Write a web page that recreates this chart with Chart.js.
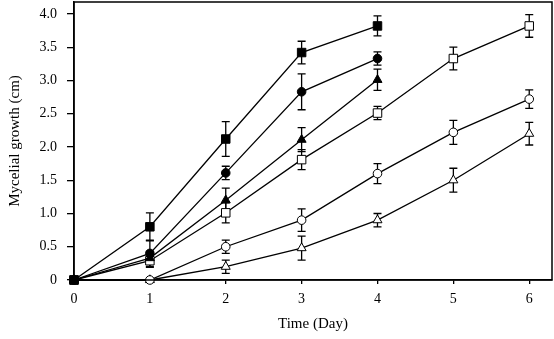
<!DOCTYPE html>
<html>
<head>
<meta charset="utf-8">
<script src="https://cdn.jsdelivr.net/npm/chart.js@4.4.1/dist/chart.umd.min.js"></script>
<style>
	html, body { margin: 0; padding: 0; background: #fff; }
	#wrap { width: 554px; height: 339px; position: relative; }
</style>
</head>
<body>
<div id="wrap"><canvas id="growthChart"></canvas></div>
<script>
// days on the x axis
const days = [0, 1, 2, 3, 4, 5, 6];
const xTicks = [0, 1, 2, 3, 4, 5, 6];
const yTicks = [0, 0.5, 1, 1.5, 2, 2.5, 3, 3.5, 4];

// mycelial growth (cm), with standard error
const filledSquare = [0, 0.80, 2.12, 3.42, 3.82];
const filledSquareErr = [0, 0.21, 0.26, 0.17, 0.15];
const filledCircle = [0, 0.40, 1.61, 2.83, 3.33];
const filledCircleErr = [0, 0.20, 0.10, 0.27, 0.10];
const filledTriangle = [0, 0.33, 1.20, 2.11, 3.01];
const filledTriangleErr = [0, 0.10, 0.18, 0.18, 0.16];
const openSquare = [0, 0.29, 1.01, 1.81, 2.51, 3.33, 3.82];
const openSquareErr = [0, 0.10, 0.15, 0.15, 0.10, 0.17, 0.17];
const openCircle = [0, 0, 0.50, 0.90, 1.60, 2.22, 2.72];
const openCircleErr = [0, 0, 0.10, 0.17, 0.15, 0.18, 0.14];
const openTriangle = [0, 0, 0.20, 0.48, 0.90, 1.50, 2.20];
const openTriangleErr = [0, 0, 0.10, 0.18, 0.10, 0.18, 0.17];

function makeSet(label, values, errs, style, filled, radius) {
	return {
		label: label,
		data: values.map((v, i) => ({ x: days[i], y: v })),
		errors: errs,
		borderColor: '#000',
		borderWidth: 1.3,
		pointStyle: style,
		pointRadius: radius,
		pointHoverRadius: radius,
		pointBackgroundColor: filled ? '#000' : '#fff',
		pointBorderColor: '#000',
		pointBorderWidth: 1,
		fill: false,
		tension: 0,
		clip: false
	};
}

// error bars drawn under the markers, using the chart scales
const errorBars = {
	id: 'errorBars',
	beforeDatasetsDraw(chart) {
		const ctx = chart.ctx;
		const xs = chart.scales.x;
		const ys = chart.scales.y;
		ctx.save();
		ctx.strokeStyle = '#000';
		ctx.lineWidth = 1.3;
		chart.data.datasets.forEach(ds => {
			ds.data.forEach((p, i) => {
				const e = ds.errors[i];
				if (!e) return;
				const px = xs.getPixelForValue(p.x);
				const top = ys.getPixelForValue(p.y + e);
				const bot = ys.getPixelForValue(p.y - e);
				ctx.beginPath();
				ctx.moveTo(px, top); ctx.lineTo(px, bot);
				ctx.moveTo(px - 4, top); ctx.lineTo(px + 4, top);
				ctx.moveTo(px - 4, bot); ctx.lineTo(px + 4, bot);
				ctx.stroke();
			});
		});
		ctx.restore();
	}
};

// box round the plot area
const frame = {
	id: 'frame',
	afterDraw(chart) {
		const a = chart.chartArea;
		const ctx = chart.ctx;
		ctx.save();
		ctx.strokeStyle = '#000';
		ctx.lineWidth = 1.5;
		ctx.strokeRect(a.left, a.top, a.right - a.left, a.bottom - a.top);
		ctx.restore();
	}
};

// no extra room for half labels at the ends of the axes
function noPad(s) {
	s.paddingTop = 0;
	s.paddingBottom = 0;
	s.paddingLeft = 0;
	s.paddingRight = 0;
}

const font = { family: '"Liberation Serif", "Times New Roman", serif', size: 14 };
const titleFont = { family: '"Liberation Serif", "Times New Roman", serif', size: 15 };

new Chart(document.getElementById('growthChart'), {
	type: 'line',
	data: {
		datasets: [
			makeSet('A', filledSquare, filledSquareErr, 'rect', true, 6),
			makeSet('B', filledCircle, filledCircleErr, 'circle', true, 4.3),
			makeSet('C', filledTriangle, filledTriangleErr, 'triangle', true, 5.2),
			makeSet('D', openSquare, openSquareErr, 'rect', false, 6),
			makeSet('E', openCircle, openCircleErr, 'circle', false, 4.3),
			makeSet('F', openTriangle, openTriangleErr, 'triangle', false, 5.2)
		]
	},
	options: {
		responsive: true,
		maintainAspectRatio: false,
		animation: false,
		layout: { autoPadding: false, padding: { top: 2, right: 2, left: 0, bottom: 0 } },
		plugins: {
			legend: { display: false },
			tooltip: { enabled: false }
		},
		scales: {
			x: {
				type: 'linear',
				min: 0,
				max: 6.3,
				afterBuildTicks: s => { s.ticks = xTicks.map(v => ({ value: v })); },
				afterFit: s => { s.height = 59; noPad(s); },
				grid: { drawOnChartArea: false, drawTicks: true, tickLength: 4, color: '#000', lineWidth: 1.3 },
				border: { color: '#000', width: 1.5 },
				ticks: { color: '#000', font: font, padding: 7, maxRotation: 0 },
				title: { display: true, text: 'Time (Day)', color: '#000', font: titleFont, padding: { top: 0, bottom: 6 } }
			},
			y: {
				min: 0,
				max: 4.18,
				afterBuildTicks: s => { s.ticks = yTicks.map(v => ({ value: v })); },
				afterFit: s => { s.width = 74; noPad(s); },
				grid: { drawOnChartArea: false, drawTicks: true, tickLength: 7, color: '#000', lineWidth: 1.3 },
				border: { color: '#000', width: 1.5 },
				ticks: {
					color: '#000', font: font, padding: 10,
					callback: v => v === 0 ? '0' : v.toFixed(1)
				},
				title: { display: true, text: 'Mycelial growth (cm)', color: '#000', font: titleFont, padding: { top: 6, bottom: 0 } }
			}
		}
	},
	plugins: [errorBars, frame]
});
</script>
</body>
</html>
